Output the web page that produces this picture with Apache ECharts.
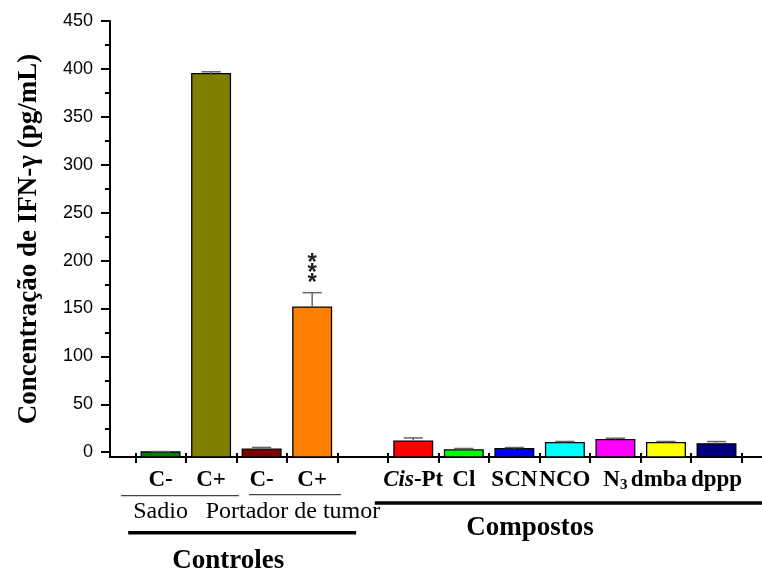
<!DOCTYPE html>
<html><head><meta charset="utf-8">
<script src="https://cdn.jsdelivr.net/npm/echarts@6/dist/echarts.min.js"></script>
<style>html,body{margin:0;padding:0;background:#fff}#c{width:762px;height:575px}</style>
</head><body><div id="c"></div>
<script>
// ---- data ----
const categories = ['C-', 'C+', 'C-', 'C+', '', 'Cis-Pt', 'Cl', 'SCN', 'NCO', 'N3', 'dmba', 'dppp'];
const values = [0.2, 395, 3.2, 151.5, null, 11.5, 2.5, 3.8, 10.1, 13.2, 10.1, 8.7];
const errors = [0.5, 2.0, 1.8, 15.0, null, 3.4, 1.4, 1.1, 1.1, 1.4, 1.1, 2.4];
const significance = ['', '', '', '***', '', '', '', '', '', '', '', ''];
const yTickValues = [0, 50, 100, 150, 200, 250, 300, 350, 400, 450];
const yMinorTickValues = [25, 75, 125, 175, 225, 275, 325, 375, 425];
const yAxisTitle = 'Concentração de IFN-γ (pg/mL)';
// ---- styles ----
const barColors = ['#008000', '#808000', '#800000', '#ff8000', null, '#ff0000', '#00ff00', '#0000ff', '#00ffff', '#ff00ff', '#ffff00', '#000080'];

const Y_MIN = -5, Y_MAX = 450, X_MIN = 0, X_MAX = 12.9;
const BAR_W = 0.765, CAP_W = 0.38;
const SERIF = 'Liberation Serif';
const SANS = 'Liberation Sans';

const xPos = categories.map((c, i) => i + 1);
const oddPos = xPos.filter((v, i) => i % 2 === 0);
const evenPos = xPos.filter((v, i) => i % 2 === 1);
const boundaryTicks = [0].concat(xPos).map(v => v + 0.5);
const seriesData = [];
categories.forEach((c, i) => {
  if (values[i] !== null) seriesData.push([xPos[i], values[i], errors[i], i]);
});

const chart = echarts.init(document.getElementById('c'), null, {renderer: 'canvas'});

function labelFormatter(v) {
  const i = Math.round(v) - 1;
  const c = categories[i];
  if (!c) return '';
  if (c === 'Cis-Pt') return '{it|Cis}{b|-Pt}';
  if (c === 'N3') return '{b|N}{sub|3}';
  if (c === 'dmba') return '{bl|' + c + '}';
  return '{b|' + c + '}';
}
const labelRich = {
  b: {fontFamily: SERIF, fontWeight: 'bold', fontSize: 23, lineHeight: 24, color: '#000', verticalAlign: 'top'},
  bl: {fontFamily: SERIF, fontWeight: 'bold', fontSize: 23, lineHeight: 24, color: '#000', verticalAlign: 'top', padding: [0, 14, 0, 0]},
  it: {fontFamily: SERIF, fontWeight: 'bold', fontStyle: 'italic', fontSize: 23, lineHeight: 24, color: '#000', verticalAlign: 'top'},
  sub: {fontFamily: SERIF, fontWeight: 'bold', fontSize: 15, lineHeight: 14, color: '#000', verticalAlign: 'bottom', padding: [14, 0, 0, 0]}
};
function xLabel(vals) {
  return {show: true, customValues: vals, margin: 12, formatter: labelFormatter,
    showMinLabel: true, showMaxLabel: true, hideOverlap: false, rich: labelRich};
}

const option = {
  animation: false,
  backgroundColor: '#fff',
  grid: {left: 110, right: 0, top: 21, bottom: 118, containLabel: false},
  xAxis: [{
    type: 'value', min: X_MIN, max: X_MAX, position: 'bottom',
    axisLine: {show: true, onZero: false, lineStyle: {color: '#000', width: 2}},
    axisTick: {show: true, customValues: boundaryTicks, length: 6, inside: false, lineStyle: {color: '#000', width: 2}},
    axisLabel: xLabel(oddPos),
    splitLine: {show: false}
  }, {
    type: 'value', min: X_MIN, max: X_MAX, position: 'bottom',
    axisLine: {show: false, onZero: false},
    axisTick: {show: true, customValues: boundaryTicks, length: 4, inside: true, lineStyle: {color: '#000', width: 2}},
    axisLabel: xLabel(evenPos),
    splitLine: {show: false}
  }],
  yAxis: [{
    type: 'value', min: Y_MIN, max: Y_MAX, position: 'left',
    axisLine: {show: true, onZero: false, lineStyle: {color: '#000', width: 2}},
    axisTick: {show: true, customValues: yTickValues, length: 9, lineStyle: {color: '#000', width: 2}},
    axisLabel: {show: true, customValues: yTickValues, margin: 17, fontFamily: SANS, fontSize: 18, color: '#000',
      showMinLabel: true, showMaxLabel: true},
    splitLine: {show: false},
    name: yAxisTitle, nameLocation: 'middle', nameGap: 67, nameRotate: 90,
    nameTextStyle: {fontFamily: SERIF, fontWeight: 'bold', fontSize: 27, color: '#000'}
  }, {
    type: 'value', min: Y_MIN, max: Y_MAX, position: 'left',
    axisLine: {show: false},
    axisTick: {show: true, customValues: yMinorTickValues, length: 5, lineStyle: {color: '#000', width: 2}},
    axisLabel: {show: false},
    splitLine: {show: false}
  }],
  series: [{
    type: 'custom',
    xAxisIndex: 0, yAxisIndex: 0,
    clip: false,
    data: seriesData,
    renderItem: function (params, api) {
      const x = api.value(0), v = api.value(1), e = api.value(2), idx = api.value(3);
      const base = api.coord([x, Y_MIN]);
      const top = api.coord([x, v]);
      const errTop = api.coord([x, v + e]);
      const w = api.size([BAR_W, 0])[0];
      const capW = api.size([CAP_W, 0])[0];
      const children = [
        {type: 'rect', shape: {x: top[0] - w / 2, y: top[1], width: w, height: base[1] - top[1]},
          style: {fill: barColors[idx], stroke: '#000', lineWidth: 1.3}},
        {type: 'line', shape: {x1: top[0], y1: top[1], x2: top[0], y2: errTop[1]},
          style: {stroke: '#666', lineWidth: 1.5}},
        {type: 'line', shape: {x1: top[0] - capW / 2, y1: errTop[1], x2: top[0] + capW / 2, y2: errTop[1]},
          style: {stroke: '#666', lineWidth: 1.5}}
      ];
      const sig = significance[idx];
      if (sig) {
        children.push({type: 'text', x: top[0], y: errTop[1] - 4,
          style: {text: sig.split('').join('\n'), font: 'bold 24px ' + SANS, fill: '#222',
            align: 'center', verticalAlign: 'bottom', lineHeight: 10}});
      }
      return {type: 'group', children: children};
    }
  }]
};
chart.setOption(option);

// ---- group annotations below the axis ----
const px = v => chart.convertToPixel({xAxisIndex: 0}, v);
const AX = chart.convertToPixel({yAxisIndex: 0}, Y_MIN);
function hline(a, b, dy, w, color) {
  return {type: 'line', shape: {x1: px(a), y1: AX + dy, x2: px(b), y2: AX + dy}, style: {stroke: color, lineWidth: w}, silent: true};
}
function label(t, at, dy, size, bold) {
  return {type: 'text', x: px(at), y: AX + dy, silent: true,
    style: {text: t, font: (bold ? 'bold ' : '') + size + 'px ' + SERIF, fill: '#000', align: 'center', verticalAlign: 'middle'}};
}
chart.setOption({graphic: [
  hline(0.22, 2.55, 38.7, 1.2, '#444'),
  hline(2.75, 4.57, 37.7, 1.2, '#444'),
  label('Sadio', 1.0, 55, 24, false),
  label('Portador de tumor', 3.62, 55, 24, false),
  hline(0.36, 4.87, 75.7, 3.5, '#000'),
  label('Controles', 2.34, 104, 27, true),
  hline(5.24, X_MAX, 46, 3.5, '#000'),
  label('Compostos', 8.31, 71, 27, true)
]});
</script>
</body></html>
